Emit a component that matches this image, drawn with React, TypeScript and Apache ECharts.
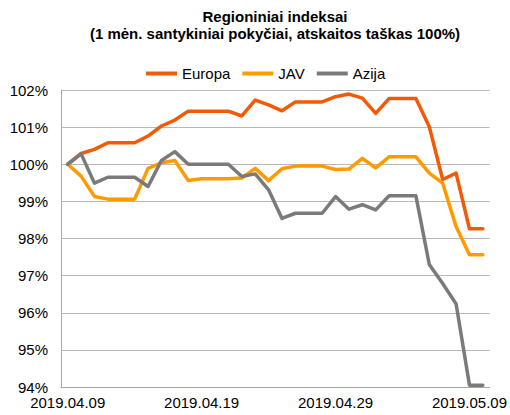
import React, { useEffect, useRef } from "react";
import * as echarts from "echarts";

const categories: string[] = [
  "2019.04.09", "2019.04.10", "2019.04.11", "2019.04.12", "2019.04.13", "2019.04.14",
  "2019.04.15", "2019.04.16", "2019.04.17", "2019.04.18", "2019.04.19", "2019.04.20",
  "2019.04.21", "2019.04.22", "2019.04.23", "2019.04.24", "2019.04.25", "2019.04.26",
  "2019.04.27", "2019.04.28", "2019.04.29", "2019.04.30", "2019.05.01", "2019.05.02",
  "2019.05.03", "2019.05.04", "2019.05.05", "2019.05.06", "2019.05.07", "2019.05.08",
  "2019.05.09", "2019.05.10",
];

const europa: number[] = [
  100.0, 100.29, 100.4, 100.58, 100.58, 100.58, 100.76, 101.03, 101.19, 101.43,
  101.43, 101.43, 101.43, 101.3, 101.73, 101.6, 101.44, 101.68, 101.68, 101.68,
  101.82, 101.89, 101.78, 101.37, 101.77, 101.77, 101.77, 101.01, 99.59, 99.76,
  98.26, 98.26,
];

const jav: number[] = [
  100.0, 99.68, 99.13, 99.06, 99.06, 99.06, 99.89, 100.04, 100.1, 99.56,
  99.61, 99.61, 99.61, 99.63, 99.89, 99.56, 99.88, 99.95, 99.95, 99.95,
  99.86, 99.87, 100.16, 99.9, 100.2, 100.2, 100.2, 99.76, 99.49, 98.32,
  97.56, 97.56,
];

const azija: number[] = [
  100.0, 100.28, 99.49, 99.65, 99.65, 99.65, 99.4, 100.1, 100.34, 100.0,
  100.0, 100.0, 100.0, 99.67, 99.74, 99.31, 98.54, 98.68, 98.68, 98.68,
  99.13, 98.79, 98.91, 98.77, 99.15, 99.15, 99.15, 97.3, 96.79, 96.24,
  94.05, 94.05,
];

const titleLines: string[] = [
  "Regioniniai indeksai",
  "(1 mėn. santykiniai pokyčiai, atskaitos taškas 100%)",
];

const FONT = "'Liberation Sans', Arial, sans-serif";

export default function App() {
  const ref = useRef<HTMLDivElement>(null);

  useEffect(() => {
    document.body.style.margin = "0";
    if (!ref.current) return;
    const chart = echarts.init(ref.current, null, { renderer: "svg" });
    const lineSeries = (name: string, data: number[], color: string) => ({
      name,
      type: "line",
      data,
      symbol: "none",
      showSymbol: false,
      lineStyle: { color, width: 3.5, cap: "round", join: "round" },
      itemStyle: { color },
    });
    chart.setOption({
      animation: false,
      textStyle: { fontFamily: FONT },
      graphic: [
        {
          type: "text",
          x: 275,
          y: 24,
          style: {
            text: titleLines[0],
            font: `bold 15px ${FONT}`,
            fill: "#000",
            textAlign: "center",
            textVerticalAlign: "bottom",
          },
        },
        {
          type: "text",
          x: 275,
          y: 41,
          style: {
            text: titleLines[1],
            font: `bold 15px ${FONT}`,
            fill: "#000",
            textAlign: "center",
            textVerticalAlign: "bottom",
          },
        },
      ],
      legend: {
        left: 141,
        top: 61,
        icon: "rect",
        itemWidth: 31,
        itemHeight: 4,
        itemGap: 12,
        textStyle: { fontSize: 15, color: "#000", fontFamily: FONT },
        data: ["Europa", "JAV", "Azija"],
      },
      grid: { left: 61, right: 20, top: 90, bottom: 28, containLabel: false },
      xAxis: {
        type: "category",
        data: categories,
        boundaryGap: true,
        axisLine: { show: true, lineStyle: { color: "#a6a6a6", width: 1 } },
        axisTick: { show: false },
        axisLabel: {
          interval: (i: number) => i % 10 === 0,
          fontSize: 15,
          color: "#000",
          fontFamily: FONT,
          margin: 8,
          hideOverlap: false,
        },
        splitLine: { show: false },
      },
      yAxis: {
        type: "value",
        min: 94,
        max: 102,
        interval: 1,
        axisLine: { show: true, lineStyle: { color: "#a6a6a6", width: 1 } },
        axisTick: { show: false },
        axisLabel: {
          formatter: "{value}%",
          fontSize: 15,
          color: "#000",
          fontFamily: FONT,
          margin: 13,
        },
        splitLine: { show: true, lineStyle: { color: "#b8b8b8", width: 1 } },
      },
      series: [
        lineSeries("Europa", europa, "#f25a05"),
        lineSeries("JAV", jav, "#ff9a00"),
        lineSeries("Azija", azija, "#7a7a7a"),
      ],
    });
    return () => chart.dispose();
  }, []);

  return <div ref={ref} style={{ width: 510, height: 415 }} />;
}
